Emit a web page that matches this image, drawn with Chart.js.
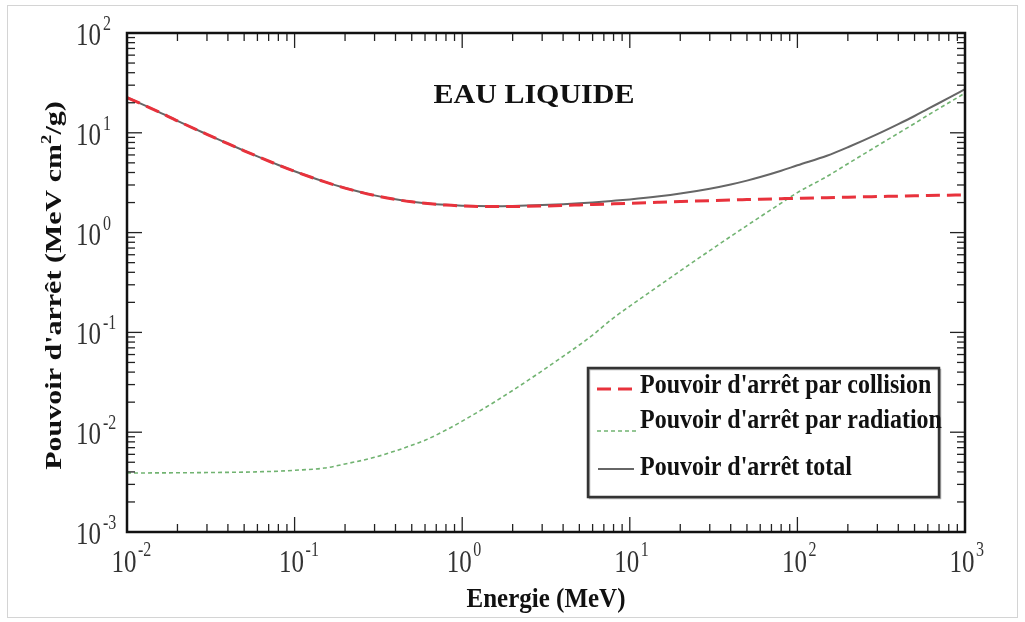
<!DOCTYPE html>
<html><head><meta charset="utf-8">
<script src="https://cdn.jsdelivr.net/npm/chart.js@4.4.1/dist/chart.umd.min.js"></script>
<style>html,body{margin:0;padding:0;background:#fff;} #wrap{width:1025px;height:622px;position:relative;} canvas{display:block;}</style>
</head><body><div id="wrap"><canvas id="c" width="1025" height="622"></canvas></div>
<script>
// ---- Data ----
const energies = [0.01,0.015,0.02,0.03,0.04,0.05,0.06,0.08,0.1,0.15,0.2,0.3,0.4,0.5,0.6,0.8,1,1.5,2,3,4,5,6,8,10,15,20,30,40,50,60,80,100,150,200,300,400,500,600,800,1000];
const collision = [22.56,16.61,13.17,9.653,7.777,6.603,5.797,4.757,4.115,3.238,2.793,2.355,2.148,2.034,1.963,1.886,1.849,1.822,1.824,1.846,1.870,1.892,1.911,1.943,1.968,2.014,2.046,2.091,2.121,2.143,2.161,2.187,2.207,2.241,2.264,2.296,2.318,2.336,2.350,2.372,2.389];
const radiation = [0.0039,0.00391,0.00392,0.00394,0.00396,0.00398,0.00401,0.00407,0.00415,0.00437,0.0048,0.0056,0.0065,0.0074,0.0083,0.0105,0.0129,0.0193,0.0262,0.0412,0.0575,0.0748,0.094,0.140,0.183,0.295,0.414,0.660,0.915,1.176,1.440,1.975,2.517,3.65,4.9,7.4,9.9,12.4,15.0,20.0,25.0];
const total = [22.56,16.61,13.17,9.657,7.781,6.607,5.801,4.761,4.119,3.242,2.798,2.361,2.155,2.041,1.971,1.897,1.862,1.841,1.850,1.887,1.928,1.967,2.005,2.083,2.151,2.309,2.460,2.751,3.036,3.319,3.601,4.162,4.724,5.891,7.164,9.696,12.218,14.736,17.350,22.372,27.389];
const xTickValues = [0.01,0.1,1,10,100,1000];
const xTickExponents = ['-2','-1','0','1','2','3'];
const yTickValues = [0.001,0.01,0.1,1,10,100];
const yTickExponents = ['-3','-2','-1','0','1','2'];
const minorMultipliers = [2,3,4,5,6,7,8,9];
const seriesLabels = ["Pouvoir d'arrêt par collision","Pouvoir d'arrêt par radiation","Pouvoir d'arrêt total"];
const chartTitle = 'EAU LIQUIDE';
const xTitle = 'Energie (MeV)';
const yTitleParts = ["Pouvoir d'arrêt (MeV cm", "2", "/g)"];

const SERIF = '"Liberation Serif", "Times New Roman", serif';
const colRed = '#e8323c', colGreen = 'rgba(105,175,105,0.95)', colGray = '#666666';

function pts(ys){ return energies.map((e,i)=>({x:e,y:ys[i]})); }

function txt(ctx, s, x, y, font, align, sx, sy, color){
  ctx.save();
  ctx.translate(x,y); ctx.scale(sx,sy);
  ctx.font = font; ctx.textAlign = align; ctx.textBaseline = 'alphabetic'; ctx.fillStyle = color;
  ctx.fillText(s,0,0);
  const w = ctx.measureText(s).width*sx;
  ctx.restore();
  return w;
}

const decor = {
  id:'decor',
  beforeDraw(chart){
    const ctx = chart.ctx;
    ctx.save();
    ctx.fillStyle='#fff'; ctx.fillRect(0,0,chart.width,chart.height);
    ctx.strokeStyle='#d4d4d4'; ctx.lineWidth=1;
    ctx.strokeRect(7.5,5.5,1010,612);
    ctx.restore();
  },
  afterDraw(chart){
    const ctx = chart.ctx, ca = chart.chartArea;
    const xs = chart.scales.x, ys = chart.scales.y;
    ctx.save();
    // ticks
    ctx.strokeStyle='#222'; ctx.lineWidth=1.3;
    const line=(a,b,c,d)=>{ctx.beginPath();ctx.moveTo(a,b);ctx.lineTo(c,d);ctx.stroke();};
    xTickValues.forEach((v,i)=>{
      const p = xs.getPixelForValue(v);
      line(p,ca.bottom,p,ca.bottom-15); line(p,ca.top,p,ca.top+15);
      if(i<xTickValues.length-1) minorMultipliers.forEach(m=>{
        const q = xs.getPixelForValue(v*m);
        line(q,ca.bottom,q,ca.bottom-8); line(q,ca.top,q,ca.top+8);
      });
    });
    yTickValues.forEach((v,i)=>{
      const p = ys.getPixelForValue(v);
      line(ca.left,p,ca.left+15,p); line(ca.right,p,ca.right-15,p);
      if(i<yTickValues.length-1) minorMultipliers.forEach(m=>{
        const q = ys.getPixelForValue(v*m);
        line(ca.left,q,ca.left+8,q); line(ca.right,q,ca.right-8,q);
      });
    });
    // frame
    ctx.strokeStyle='#111'; ctx.lineWidth=2.5;
    ctx.strokeRect(ca.left,ca.top,ca.right-ca.left,ca.bottom-ca.top);
    // tick labels
    const big = '25px '+SERIF, small = '16px '+SERIF, lc='#333';
    xTickValues.forEach((v,i)=>{
      const p = xs.getPixelForValue(v);
      txt(ctx,'10',p-3,ca.bottom+40,big,'center',1,1.3,lc);
      txt(ctx,xTickExponents[i],p+11,ca.bottom+24,small,'left',1,1.3,lc);
    });
    yTickValues.forEach((v,i)=>{
      const p = ys.getPixelForValue(v);
      txt(ctx,'10',ca.left-26,p+12,big,'right',1,1.3,lc);
      txt(ctx,yTickExponents[i],ca.left-24,p-3,small,'left',1,1.3,lc);
    });
    // chart title
    txt(ctx,chartTitle,534,103,'bold 30px '+SERIF,'center',1,0.92,'#111');
    // x title
    txt(ctx,xTitle,(ca.left+ca.right)/2,607,'bold 25px '+SERIF,'center',1,1.1,'#111');
    // y title (rotated)
    ctx.save();
    ctx.translate(61,(ca.top+ca.bottom)/2+3); ctx.rotate(-Math.PI/2); ctx.scale(1.25,1);
    ctx.fillStyle='#111'; ctx.textBaseline='alphabetic'; ctx.textAlign='left';
    const fMain='bold 24px '+SERIF, fSup='bold 15px '+SERIF;
    ctx.font=fMain; const w1=ctx.measureText(yTitleParts[0]).width, w3=ctx.measureText(yTitleParts[2]).width;
    ctx.font=fSup; const w2=ctx.measureText(yTitleParts[1]).width;
    let x0=-(w1+w2+w3)/2;
    ctx.font=fMain; ctx.fillText(yTitleParts[0],x0,0);
    ctx.font=fSup; ctx.fillText(yTitleParts[1],x0+w1,-10);
    ctx.font=fMain; ctx.fillText(yTitleParts[2],x0+w1+w2,0);
    ctx.restore();
    // legend
    const L=588, T=368, R=939, B=497;
    ctx.fillStyle='#fff'; ctx.fillRect(L,T,R-L,B-T);
    ctx.strokeStyle='#aaa'; ctx.lineWidth=1.5; ctx.strokeRect(L+1.5,T+1.5,R-L,B-T);
    ctx.strokeStyle='#333'; ctx.lineWidth=2.5; ctx.strokeRect(L,T,R-L,B-T);
    const ent=[
      {y:389,tb:393,color:colRed,w:3,dash:[14,7],x1:597,x2:634},
      {y:431,tb:428,color:colGreen,w:1.6,dash:[4,3],x1:597,x2:636},
      {y:469,tb:475,color:colGray,w:2,dash:[],x1:598,x2:634}
    ];
    ent.forEach((e,i)=>{
      ctx.save(); ctx.strokeStyle=e.color; ctx.lineWidth=e.w; ctx.setLineDash(e.dash);
      line(e.x1,e.y,e.x2,e.y); ctx.restore();
      txt(ctx,seriesLabels[i],640,e.tb,'bold 24px '+SERIF,'left',1,1.12,'#111');
    });
    ctx.restore();
  }
};

new Chart(document.getElementById('c'),{
  type:'line',
  data:{datasets:[
    {label:seriesLabels[0],data:pts(collision),borderColor:colRed,borderWidth:3,borderDash:[14,7],pointRadius:0,cubicInterpolationMode:'monotone',fill:false},
    {label:seriesLabels[2],data:pts(total),borderColor:colGray,borderWidth:2,pointRadius:0,cubicInterpolationMode:'monotone',fill:false},
    {label:seriesLabels[1],data:pts(radiation),borderColor:colGreen,borderWidth:1.6,borderDash:[4,3],pointRadius:0,cubicInterpolationMode:'monotone',fill:false}
  ]},
  options:{
    responsive:false, animation:false, devicePixelRatio:1,
    layout:{padding:{left:127,right:60,top:33,bottom:90}},
    plugins:{legend:{display:false},tooltip:{enabled:false},title:{display:false}},
    scales:{
      x:{type:'logarithmic',min:0.01,max:1000,display:false},
      y:{type:'logarithmic',min:0.001,max:100,display:false}
    }
  },
  plugins:[decor]
});
</script></body></html>
